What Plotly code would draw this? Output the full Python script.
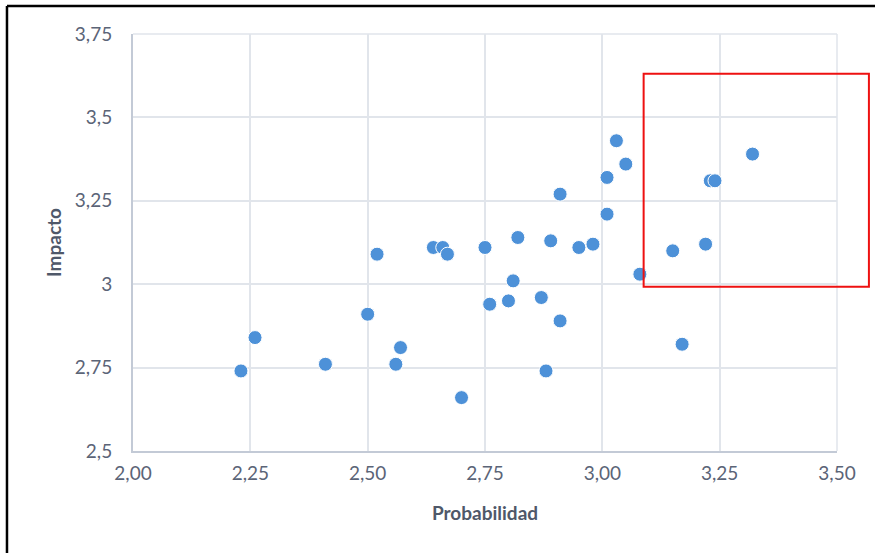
import plotly.graph_objects as go

# Probabilidad / Impacto por riesgo
probabilidad = [2.23, 2.26, 2.41, 2.50, 2.52, 2.56, 2.57, 2.64, 2.66, 2.67,
                2.70, 2.75, 2.76, 2.80, 2.81, 2.82, 2.87, 2.88, 2.89, 2.91,
                2.91, 2.95, 2.98, 3.01, 3.01, 3.03, 3.05, 3.08, 3.15, 3.17,
                3.22, 3.23, 3.24, 3.32]
impacto = [2.74, 2.84, 2.76, 2.91, 3.09, 2.76, 2.81, 3.11, 3.11, 3.09,
           2.66, 3.11, 2.94, 2.95, 3.01, 3.14, 2.96, 2.74, 3.13, 3.27,
           2.89, 3.11, 3.12, 3.32, 3.21, 3.43, 3.36, 3.03, 3.10, 2.82,
           3.12, 3.31, 3.31, 3.39]

x_ticks = [2.00, 2.25, 2.50, 2.75, 3.00, 3.25, 3.50]
x_labels = ["2,00", "2,25", "2,50", "2,75", "3,00", "3,25", "3,50"]
y_ticks = [2.5, 2.75, 3.0, 3.25, 3.5, 3.75]
y_labels = ["2,5", "2,75", "3", "3,25", "3,5", "3,75"]

# Zona destacada (probabilidad e impacto altos)
zona_x = [3.088, 3.568]
zona_y = [2.992, 3.631]

x_range = [2.0, 3.5]
y_range = [2.5, 3.75]

text_color = "#5b6477"
title_color = "#4f5869"
grid_color = "#e1e5eb"
axis_color = "#c3cad6"
font_family = "Lato"
tick_size = 19
title_size = 19

fig = go.Figure()
fig.add_trace(go.Scatter(
    x=probabilidad, y=impacto, mode="markers",
    marker=dict(size=14, color="#4d91d8", line=dict(color="white", width=1)),
    showlegend=False, cliponaxis=False,
))


def px(v):
    return (v - x_range[0]) / (x_range[1] - x_range[0])


def py(v):
    return (v - y_range[0]) / (y_range[1] - y_range[0])


fig.add_shape(type="rect", xref="paper", yref="paper",
              x0=px(zona_x[0]), x1=px(zona_x[1]),
              y0=py(zona_y[0]), y1=py(zona_y[1]),
              line=dict(color="#ee1111", width=2), fillcolor="rgba(0,0,0,0)")

# Marco negro del recuadro (izquierda y arriba)
fig.add_shape(type="line", xref="paper", yref="paper",
              x0=-0.179, x1=-0.179, y0=-0.3, y1=1.067,
              line=dict(color="black", width=2.5))
fig.add_shape(type="line", xref="paper", yref="paper",
              x0=-0.179, x1=1.1, y0=1.067, y1=1.067,
              line=dict(color="black", width=2.5))

fig.update_layout(
    width=875, height=553,
    margin=dict(l=133, r=38, t=34, b=102),
    paper_bgcolor="white", plot_bgcolor="white",
    font=dict(family=font_family, color=text_color, size=tick_size),
)
fig.update_xaxes(
    range=x_range, tickvals=x_ticks, ticktext=x_labels,
    showgrid=True, gridcolor=grid_color, gridwidth=1.5,
    showline=True, linecolor=axis_color, linewidth=2,
    zeroline=False, ticks="", ticklabelstandoff=4,
    tickfont=dict(family=font_family, size=tick_size, color=text_color),
    title=dict(text="<b>Probabilidad</b>", font=dict(family=font_family, size=title_size, color=title_color), standoff=24),
)
fig.update_yaxes(
    range=y_range, tickvals=y_ticks, ticktext=y_labels,
    showgrid=True, gridcolor=grid_color, gridwidth=1.5,
    showline=True, linecolor=axis_color, linewidth=2,
    zeroline=False, ticks="", ticklabelstandoff=15,
    tickfont=dict(family=font_family, size=tick_size, color=text_color),
    title=dict(text="<b>Impacto</b>", font=dict(family=font_family, size=title_size, color=title_color), standoff=8),
)
# Línea de cuadrícula en el borde derecho y superior
fig.add_shape(type="line", xref="paper", yref="paper", x0=1, x1=1, y0=0, y1=1,
              line=dict(color=grid_color, width=1.5), layer="below")
fig.add_shape(type="line", xref="paper", yref="paper", x0=0, x1=1, y0=1, y1=1,
              line=dict(color=grid_color, width=1.5), layer="below")

fig.write_html("out.html")
